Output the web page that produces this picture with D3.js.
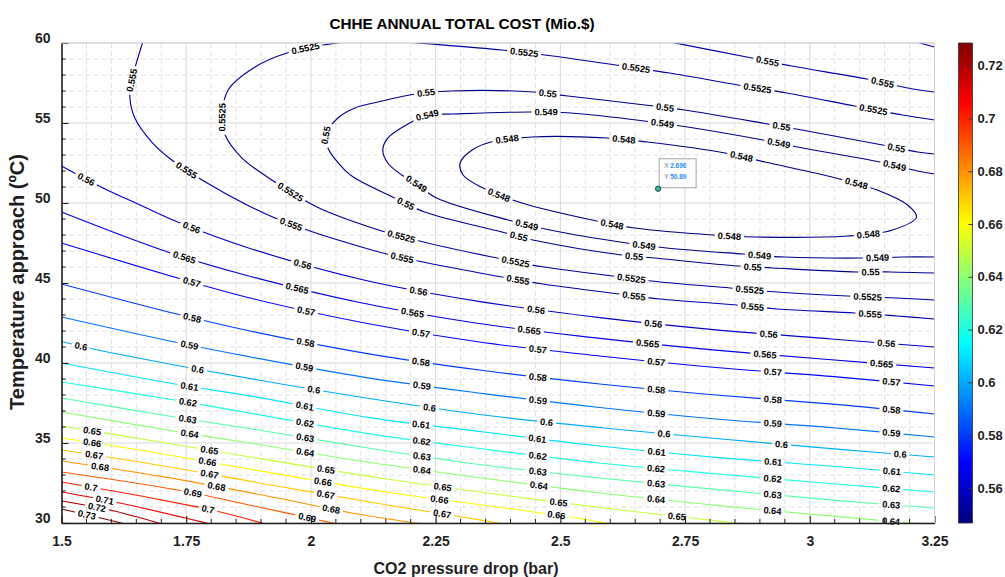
<!DOCTYPE html>
<html>
<head>
<meta charset="utf-8">
<script src="https://cdn.jsdelivr.net/npm/d3@7"></script>
<style>
  body { margin: 0; background: #fff; }
  svg text { font-family: "Liberation Sans", Arial, Helvetica, sans-serif; }
</style>
</head>
<body>
<svg id="chart" width="1005" height="577"></svg>
<script>
// ---------------------------------------------------------------------------
// Axis domains, tick values and colour limits
// ---------------------------------------------------------------------------
const xDomain = [1.5, 3.25];               // CO2 pressure drop (bar)
const yDomain = [30, 60];                  // temperature approach (°C)
const xTickValues = [1.5, 1.75, 2, 2.25, 2.5, 2.75, 3, 3.25];
const yTickValues = [30, 35, 40, 45, 50, 55, 60];
const colorLimits = [0.5467, 0.7286];      // annual total cost, Mio.$
const cbTickValues = [0.56, 0.58, 0.6, 0.62, 0.64, 0.66, 0.68, 0.7, 0.72];
const tipPoint = [2.696, 50.89];           // data cursor

// ---------------------------------------------------------------------------
// Iso-cost lines: [pressure drop, temperature approach] and label anchors
// ---------------------------------------------------------------------------
const line_0548 = [[2.299,52.5],[2.323,53.31],[2.361,53.81],[2.443,54.125],[2.595,54.06],[2.675,53.81],[2.830,53.125],[2.910,52.56],[3.060,51.5],[3.140,50.75],[3.196,49.875],[3.214,49.125],[3.166,48.31],[3.076,47.94],[2.890,47.875],[2.806,48],[2.649,48.44],[2.573,48.875],[2.423,50],[2.345,50.94],[2.305,51.75]];
const labels_0548 = [[2.393,54.125],[2.627,54.06],[2.864,53],[3.094,51.31],[3.116,48.25],[2.840,48.06],[2.605,48.81],[2.379,50.69]];

const line_0549 = [[3.25,46.625],[3.186,46.625],[3.104,46.56],[2.950,46.625],[2.866,46.81],[2.713,47.19],[2.633,47.5],[2.479,48.31],[2.395,48.94],[2.252,50.31],[2.212,51.19],[2.182,51.75],[2.154,52.5],[2.144,53.31],[2.154,54.06],[2.198,55],[2.234,55.5],[2.283,55.56],[2.439,55.69],[2.521,55.625],[2.669,55.125],[2.755,54.75],[2.906,53.94],[2.986,53.44],[3.140,52.56],[3.216,52],[3.25,51.81]];
const labels_0549 = [[2.234,55.5],[2.471,55.81],[2.705,55.06],[2.939,53.875],[3.172,52.5],[3.136,46.75],[2.900,46.875],[2.669,47.5],[2.433,48.75],[2.212,51.25]];

const line_0550 = [[3.25,45.625],[3.162,45.69],[3.094,45.69],[2.926,45.94],[2.856,46.06],[2.689,46.56],[2.623,46.75],[2.455,47.625],[2.383,48.19],[2.228,49.44],[2.168,50.31],[2.088,51.56],[2.068,52.06],[2.034,53.44],[2.030,54.25],[2.054,55.31],[2.088,55.94],[2.134,56.31],[2.210,56.81],[2.281,57],[2.445,56.94],[2.515,56.69],[2.669,56.125],[2.749,55.81],[2.915,54.94],[2.984,54.56],[3.146,53.625],[3.216,53.19],[3.25,53.06]];
const labels_0550 = [[2.032,54.25],[2.230,57.125],[2.475,56.94],[2.711,56.125],[2.944,54.94],[3.176,53.625],[3.122,45.81],[2.886,46.125],[2.649,46.875],[2.417,48],[2.192,50.06]];

const line_05525 = [[3.25,43.94],[3.174,44.06],[3.076,44.19],[2.936,44.44],[2.840,44.69],[2.701,45.06],[2.605,45.44],[2.467,46],[2.373,46.56],[2.234,47.5],[2.142,48.25],[2.088,48.81],[2.012,49.75],[1.928,51.31],[1.862,52.81],[1.828,54.25],[1.822,55.375],[1.834,57.06],[1.888,58.5],[1.952,59.375],[2.052,60],[2.138,60.22],[2.194,60.06],[2.383,59.56],[2.485,59.19],[2.625,58.56],[2.719,58.125],[2.856,57.375],[2.954,56.875],[3.090,56.06],[3.186,55.5],[3.25,55.19]];
const labels_05525 = [[1.822,55.375],[1.988,59.75],[2.429,59.56],[2.653,58.56],[2.896,57.25],[3.128,55.94],[3.116,44.31],[2.880,44.75],[2.643,45.44],[2.411,46.5],[2.182,48],[1.962,50.875]];

const line_0555 = [[1.665,60.25],[1.653,59.06],[1.641,57.69],[1.637,56.625],[1.647,55.31],[1.681,53.81],[1.721,52.69],[1.792,51.25],[1.868,49.94],[1.928,49.06],[2.004,48.19],[2.068,47.56],[2.152,46.81],[2.234,46.25],[2.383,45.375],[2.465,44.94],[2.619,44.31],[2.699,44],[2.853,43.625],[2.935,43.375],[3.090,43.125],[3.174,42.94],[3.25,42.75]];
const labels_0555 = [[1.637,57.69],[1.754,52.25],[1.962,48.75],[2.184,46.69],[2.415,45.31],[2.649,44.31],[2.886,43.69],[3.122,43.19]];

const line_0555_top = [[2.699,60.19],[2.884,59.06],[2.964,58.56],[3.114,57.75],[3.196,57.19],[3.25,56.94]];
const labels_0555_top = [[2.917,59],[3.146,57.56]];

const line_0560_top = [[3.199,60.19],[3.25,59.75]];

const line_0560 = [[1.5,52.31],[1.583,50.94],[1.653,49.94],[1.733,48.81],[1.878,47.16],[2.106,45.19],[2.339,43.84],[2.579,42.84],[2.807,42.09],[3.043,41.5],[3.25,41]];
const labels_0560 = [[1.551,51.625],[1.762,48.5],[1.984,46.19],[2.216,44.56],[2.451,43.44],[2.686,42.56],[2.918,41.94],[3.154,41.375]];

const line_0565 = [[1.5,49.44],[1.713,46.94],[1.868,45.5],[2.098,43.78],[2.330,42.5],[2.566,41.59],[2.800,40.84],[3.037,40.22],[3.25,39.69]];
const labels_0565 = [[1.747,46.75],[1.974,44.75],[2.204,43.25],[2.439,42.19],[2.675,41.31],[2.910,40.69],[3.144,40.125]];

const line_0570 = [[1.5,47.5],[1.733,45.31],[1.882,44.03],[2.113,42.47],[2.338,41.31],[2.579,40.44],[2.812,39.72],[3.043,39.16],[3.25,38.56]];
const labels_0570 = [[1.762,45.125],[1.992,43.44],[2.222,42],[2.455,41],[2.693,40.19],[2.926,39.56],[3.164,39]];

const line_0580 = [[1.5,44.94],[1.731,43.06],[1.878,42],[2.113,40.59],[2.346,39.53],[2.579,38.69],[2.812,38],[3.052,37.41],[3.25,36.81]];
const labels_0580 = [[1.762,42.875],[1.990,41.375],[2.222,40.19],[2.455,39.19],[2.693,38.44],[2.926,37.81],[3.164,37.25]];

const line_0590 = [[1.5,42.875],[1.727,41.31],[1.873,40.41],[2.111,39.09],[2.346,38.09],[2.579,37.22],[2.812,36.5],[3.052,35.94],[3.25,35.375]];
const labels_0590 = [[1.758,41.25],[1.988,39.875],[2.222,38.69],[2.455,37.81],[2.693,37],[2.926,36.375],[3.164,35.75]];

const line_0600 = [[1.5,41.34],[1.573,40.81],[1.727,39.875],[1.894,38.94],[2.130,37.72],[2.363,36.69],[2.587,35.94],[2.834,35.22],[3.066,34.59],[3.25,34.125]];
const labels_0600 = [[1.541,41.19],[1.774,39.75],[2.006,38.44],[2.238,37.31],[2.473,36.375],[2.709,35.69],[2.944,35.06],[3.182,34.44]];

const line_0610 = [[1.5,40],[1.727,38.69],[1.883,37.91],[2.118,36.59],[2.346,35.69],[2.579,34.81],[2.817,34.09],[3.052,33.53],[3.25,33]];
const labels_0610 = [[1.758,38.69],[1.988,37.375],[2.222,36.31],[2.455,35.375],[2.693,34.56],[2.926,33.94],[3.164,33.375]];

const line_0620 = [[1.5,38.81],[1.727,37.69],[1.883,36.84],[2.114,35.59],[2.346,34.625],[2.579,33.75],[2.817,33.06],[3.052,32.44],[3.25,31.94]];
const labels_0620 = [[1.754,37.56],[1.988,36.375],[2.222,35.25],[2.455,34.31],[2.693,33.5],[2.926,32.875],[3.164,32.31]];

const line_0630 = [[1.5,37.81],[1.727,36.625],[1.883,35.875],[2.114,34.69],[2.346,33.625],[2.579,32.81],[2.817,32.09],[3.052,31.41],[3.25,30.94]];
const labels_0630 = [[1.754,36.625],[1.988,35.375],[2.222,34.31],[2.455,33.375],[2.693,32.56],[2.926,31.94],[3.164,31.31]];

const line_0640 = [[1.5,36.94],[1.723,35.75],[1.883,34.97],[2.118,33.78],[2.343,32.81],[2.581,31.875],[2.817,31.09],[3.052,30.41],[3.25,29.875]];
const labels_0640 = [[1.758,35.75],[1.988,34.44],[2.222,33.44],[2.457,32.5],[2.693,31.56],[2.926,30.875],[3.164,30.25]];

const line_0650 = [[1.5,36.06],[1.685,35.125],[1.920,33.91],[2.152,32.75],[2.383,31.75],[2.621,30.81],[2.780,30.25],[2.900,29.81]];
const labels_0650 = [[1.563,35.94],[1.798,34.69],[2.030,33.44],[2.265,32.375],[2.497,31.375],[2.733,30.44]];

const line_0660 = [[1.5,35.31],[1.680,34.44],[1.916,33.16],[2.150,31.94],[2.381,30.97],[2.533,30.31],[2.609,29.875]];
const labels_0660 = [[1.561,35.125],[1.794,33.94],[2.024,32.625],[2.259,31.56],[2.493,30.56]];

const line_0670 = [[1.5,34.56],[1.680,33.69],[1.920,32.375],[2.153,31.125],[2.303,30.375],[2.399,29.875]];
const labels_0670 = [[1.565,34.375],[1.798,33.19],[2.030,31.875],[2.265,30.75]];

const line_0680 = [[1.5,33.875],[1.699,32.91],[1.933,31.56],[2.082,30.625],[2.238,29.875]];
const labels_0680 = [[1.577,33.625],[1.812,32.375],[2.042,31.06]];

const line_0690 = [[1.5,33.19],[1.733,32.06],[1.886,31.06],[2.052,29.94]];
const labels_0690 = [[1.764,31.94],[1.994,30.56]];

const line_0700 = [[1.5,32.56],[1.680,31.56],[1.810,30.75],[1.908,29.94]];
const labels_0700 = [[1.561,32.5],[1.794,31]];

const line_0710 = [[1.5,31.94],[1.617,31.25],[1.798,29.94]];
const labels_0710 = [[1.587,31.56]];

const line_0720 = [[1.5,31.375],[1.597,30.81],[1.701,29.94]];
const labels_0720 = [[1.571,31.06]];

const line_0730 = [[1.5,30.875],[1.587,30.25],[1.627,29.94]];
const labels_0730 = [[1.551,30.56]];

// Table of lines for drawing
const contourLines = [
  { level: 0.548,  pts: line_0548,  labels: labels_0548, closed: true },
  { level: 0.549,  pts: line_0549,  labels: labels_0549 },
  { level: 0.55,   pts: line_0550,  labels: labels_0550 },
  { level: 0.5525, pts: line_05525, labels: labels_05525 },
  { level: 0.555,  pts: line_0555,  labels: labels_0555 },
  { level: 0.555,  pts: line_0555_top, labels: labels_0555_top },
  { level: 0.56,   pts: line_0560_top, labels: [] },
  { level: 0.56,   pts: line_0560,  labels: labels_0560 },
  { level: 0.565,  pts: line_0565,  labels: labels_0565 },
  { level: 0.57,   pts: line_0570,  labels: labels_0570 },
  { level: 0.58,   pts: line_0580,  labels: labels_0580 },
  { level: 0.59,   pts: line_0590,  labels: labels_0590 },
  { level: 0.6,    pts: line_0600,  labels: labels_0600 },
  { level: 0.61,   pts: line_0610,  labels: labels_0610 },
  { level: 0.62,   pts: line_0620,  labels: labels_0620 },
  { level: 0.63,   pts: line_0630,  labels: labels_0630 },
  { level: 0.64,   pts: line_0640,  labels: labels_0640 },
  { level: 0.65,   pts: line_0650,  labels: labels_0650 },
  { level: 0.66,   pts: line_0660,  labels: labels_0660 },
  { level: 0.67,   pts: line_0670,  labels: labels_0670 },
  { level: 0.68,   pts: line_0680,  labels: labels_0680 },
  { level: 0.69,   pts: line_0690,  labels: labels_0690 },
  { level: 0.7,    pts: line_0700,  labels: labels_0700 },
  { level: 0.71,   pts: line_0710,  labels: labels_0710 },
  { level: 0.72,   pts: line_0720,  labels: labels_0720 },
  { level: 0.73,   pts: line_0730,  labels: labels_0730 }
];

// ---------------------------------------------------------------------------
// Layout
// ---------------------------------------------------------------------------
const W = 1005, H = 577;
const L = 61.5, R = 934.5, T = 43, B = 523;
const CB_X = 958.5, CB_W = 14;
const INK = "#1f1f1f";
const FONT = '"Liberation Sans", Arial, Helvetica, sans-serif';

const x = d3.scaleLinear().domain(xDomain).range([L, R]);
const y = d3.scaleLinear().domain(yDomain).range([B, T]);
const cNorm = d3.scaleLinear().domain(colorLimits).range([0, 1]).clamp(true);
const cbY = d3.scaleLinear().domain(colorLimits).range([B, T]);

// MATLAB-style jet colormap
function jet(t) {
  const c = v => Math.max(0, Math.min(1, v));
  return d3.rgb(255 * c(1.5 - Math.abs(4 * t - 3)),
                255 * c(1.5 - Math.abs(4 * t - 2)),
                255 * c(1.5 - Math.abs(4 * t - 1))).formatHex();
}

const svg = d3.select("#chart");
const defs = svg.append("defs");
defs.append("clipPath").attr("id", "plot-area")
  .append("rect").attr("x", L).attr("y", T).attr("width", R - L).attr("height", B - T);
const gapMask = defs.append("mask").attr("id", "label-gaps")
  .attr("maskUnits", "userSpaceOnUse").attr("x", 0).attr("y", 0).attr("width", W).attr("height", H);
gapMask.append("rect").attr("width", W).attr("height", H).attr("fill", "white");

// ---------------------------------------------------------------------------
// Grid
// ---------------------------------------------------------------------------
const grid = svg.append("g");
const xMinor = d3.range(0, 36).filter(i => i % 5 !== 0).map(i => 1.5 + i * 0.05);
const yMinor = d3.range(30, 61).filter(v => v % 5 !== 0);
grid.selectAll(".gxm").data(xMinor).join("line")
  .attr("x1", d => x(d)).attr("x2", d => x(d)).attr("y1", T).attr("y2", B)
  .attr("stroke", "#e1e1e1").attr("stroke-dasharray", "5,3");
grid.selectAll(".gym").data(yMinor).join("line")
  .attr("y1", d => y(d)).attr("y2", d => y(d)).attr("x1", L).attr("x2", R)
  .attr("stroke", "#e1e1e1").attr("stroke-dasharray", "5,3");
grid.selectAll(".gx").data(xTickValues).join("line")
  .attr("x1", d => x(d)).attr("x2", d => x(d)).attr("y1", T).attr("y2", B)
  .attr("stroke", "#d9d9d9");
grid.selectAll(".gy").data(yTickValues).join("line")
  .attr("y1", d => y(d)).attr("y2", d => y(d)).attr("x1", L).attr("x2", R)
  .attr("stroke", "#d9d9d9");

// ---------------------------------------------------------------------------
// Contour lines with inline labels
// ---------------------------------------------------------------------------
const openLine = d3.line().x(d => x(d[0])).y(d => y(d[1])).curve(d3.curveCatmullRom.alpha(0.5));
const loopLine = d3.line().x(d => x(d[0])).y(d => y(d[1])).curve(d3.curveCatmullRomClosed.alpha(0.5));

const plot = svg.append("g").attr("clip-path", "url(#plot-area)");
const linesG = plot.append("g").attr("mask", "url(#label-gaps)");
const labelG = svg.append("g");
const LABEL_SIZE = 9.3;
const measurer = svg.append("text").attr("font-size", LABEL_SIZE).attr("font-weight", "bold")
  .attr("font-family", FONT).attr("visibility", "hidden");

contourLines.forEach(c => {
  const stroke = jet(cNorm(c.level));
  const path = linesG.append("path")
    .attr("d", (c.closed ? loopLine : openLine)(c.pts))
    .attr("fill", "none").attr("stroke", stroke).attr("stroke-width", 1.15);
  const node = path.node();
  const len = node.getTotalLength();
  const samples = d3.range(0, len, 1).map(s => {
    const p = node.getPointAtLength(s);
    return [s, p.x, p.y];
  });
  const txt = String(c.level);
  measurer.text(txt);
  const tw = measurer.node().getComputedTextLength();

  c.labels.forEach(a => {
    const ax = x(a[0]), ay = y(a[1]);
    let best = samples[0], bd = Infinity;
    for (const p of samples) {
      const d = (p[1] - ax) ** 2 + (p[2] - ay) ** 2;
      if (d < bd) { bd = d; best = p; }
    }
    const p0 = node.getPointAtLength(Math.max(0, best[0] - 6));
    const p1 = node.getPointAtLength(Math.min(len, best[0] + 6));
    let ang = Math.atan2(p1.y - p0.y, p1.x - p0.x) * 180 / Math.PI;
    if (ang > 90) ang -= 180;
    if (ang < -90) ang += 180;
    const tr = `translate(${best[1]},${best[2]}) rotate(${ang})`;
    gapMask.append("rect")
      .attr("x", -tw / 2 - 3).attr("y", -5).attr("width", tw + 6).attr("height", 10)
      .attr("fill", "black").attr("transform", tr);
    labelG.append("text")
      .attr("transform", tr)
      .attr("text-anchor", "middle").attr("dy", "0.35em")
      .attr("font-size", LABEL_SIZE).attr("font-weight", "bold").attr("fill", "#000")
      .text(txt);
  });
});
measurer.remove();

// ---------------------------------------------------------------------------
// Axes
// ---------------------------------------------------------------------------
const xAxis = svg.append("g").attr("transform", `translate(0,${B})`)
  .call(d3.axisBottom(x).tickValues(xTickValues).tickFormat(d => String(d))
    .tickSizeInner(-7).tickSizeOuter(0).tickPadding(13));
const yAxis = svg.append("g").attr("transform", `translate(${L},0)`)
  .call(d3.axisLeft(y).tickValues(yTickValues).tickFormat(d => String(d))
    .tickSizeInner(-7).tickSizeOuter(0).tickPadding(11));
[xAxis, yAxis].forEach(g => {
  g.select(".domain").attr("stroke", INK).attr("stroke-width", 1.6);
  g.selectAll(".tick line").attr("stroke", INK).attr("stroke-width", 1.1);
  g.selectAll(".tick text").attr("fill", INK).attr("font-size", 14)
    .attr("font-weight", "bold").attr("font-family", FONT);
});
yAxis.selectAll(".tick text").attr("dy", "-0.05em");

// minor ticks
svg.append("g").selectAll("line").data(xMinor).join("line")
  .attr("x1", d => x(d)).attr("x2", d => x(d)).attr("y1", B).attr("y2", B - 4)
  .attr("stroke", INK).attr("stroke-width", 1);
svg.append("g").selectAll("line").data(yMinor).join("line")
  .attr("y1", d => y(d)).attr("y2", d => y(d)).attr("x1", L).attr("x2", L + 4)
  .attr("stroke", INK).attr("stroke-width", 1);

// top and right frame
svg.append("line").attr("x1", L).attr("x2", R).attr("y1", T).attr("y2", T).attr("stroke", "#d0d0d0");
svg.append("line").attr("x1", R).attr("x2", R).attr("y1", T).attr("y2", B).attr("stroke", "#d0d0d0");

// ---------------------------------------------------------------------------
// Titles
// ---------------------------------------------------------------------------
svg.append("text").attr("x", 462).attr("y", 24).attr("dy", "0.35em")
  .attr("text-anchor", "middle").attr("font-size", 15.3).attr("font-weight", "bold")
  .attr("fill", "#000").text("CHHE ANNUAL TOTAL COST (Mio.$)");
svg.append("text").attr("x", 466).attr("y", 568).attr("dy", "0.35em")
  .attr("text-anchor", "middle").attr("font-size", 16).attr("font-weight", "bold")
  .attr("fill", INK).text("CO2 pressure drop (bar)");
svg.append("text").attr("transform", `translate(17,282) rotate(-90)`)
  .attr("dy", "0.35em").attr("text-anchor", "middle").attr("font-size", 20)
  .attr("font-weight", "bold").attr("fill", INK).text("Temperature approach (ºC)");

// ---------------------------------------------------------------------------
// Colorbar
// ---------------------------------------------------------------------------
const grad = defs.append("linearGradient").attr("id", "jet-bar")
  .attr("x1", 0).attr("y1", 1).attr("x2", 0).attr("y2", 0);
d3.range(0, 65).forEach(i => {
  grad.append("stop").attr("offset", i / 64).attr("stop-color", jet(i / 64));
});
svg.append("rect").attr("x", CB_X).attr("y", T).attr("width", CB_W).attr("height", B - T)
  .attr("fill", "url(#jet-bar)").attr("stroke", "#333").attr("stroke-width", 0.8);
const cbAxis = svg.append("g").attr("transform", `translate(${CB_X + CB_W},0)`)
  .call(d3.axisRight(cbY).tickValues(cbTickValues).tickFormat(d => String(d))
    .tickSizeInner(-4).tickSizeOuter(0).tickPadding(5));
cbAxis.select(".domain").remove();
cbAxis.selectAll(".tick line").attr("stroke", "#333");
cbAxis.selectAll(".tick text").attr("fill", INK).attr("font-size", 13)
  .attr("font-weight", "bold").attr("font-family", FONT);

// ---------------------------------------------------------------------------
// Data cursor
// ---------------------------------------------------------------------------
const tx = x(tipPoint[0]), ty = y(tipPoint[1]);
const tip = svg.append("g").attr("transform", `translate(${tx + 1},${ty - 30})`);
tip.append("rect").attr("width", 37).attr("height", 29)
  .attr("fill", "#fcfcff").attr("stroke", "#a8a8a8").attr("stroke-width", 1);
tip.append("text").attr("x", 5).attr("y", 9).attr("font-size", 6.5).attr("fill", "#777").text("X");
tip.append("text").attr("x", 11).attr("y", 9).attr("font-size", 6.5).attr("fill", "#1e90ff")
  .attr("font-weight", "bold").text(d3.format(".3f")(tipPoint[0]));
tip.append("text").attr("x", 5).attr("y", 20).attr("font-size", 6.5).attr("fill", "#777").text("Y");
tip.append("text").attr("x", 11).attr("y", 20).attr("font-size", 6.5).attr("fill", "#1e90ff")
  .attr("font-weight", "bold").text(d3.format(".2f")(tipPoint[1]));
svg.append("circle").attr("cx", tx).attr("cy", ty).attr("r", 2.6)
  .attr("fill", "#3fb8a6").attr("stroke", "#17403a").attr("stroke-width", 1);
</script>
</body>
</html>
